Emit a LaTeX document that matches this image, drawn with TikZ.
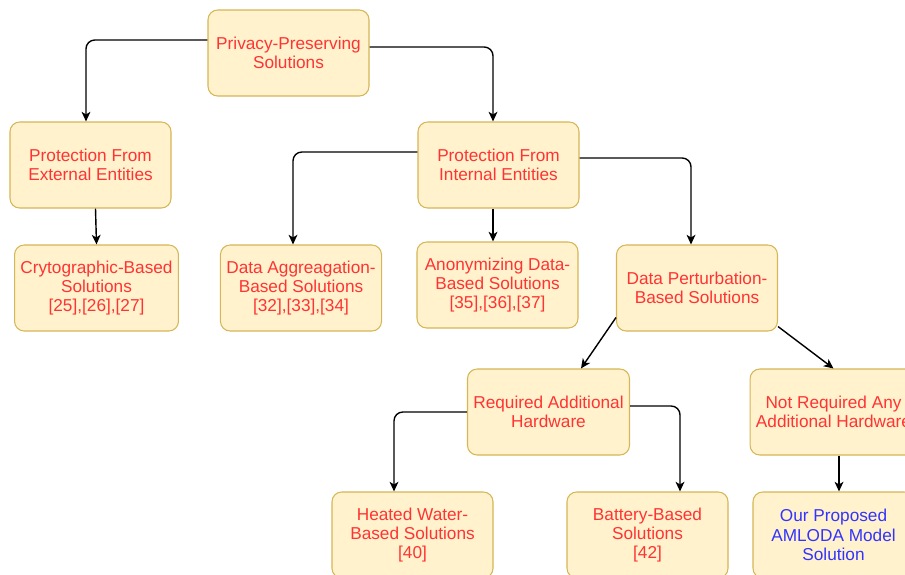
\documentclass[tikz,border=0pt]{standalone}
\usepackage{fontspec}
\setmainfont{Liberation Sans}
\usetikzlibrary{shapes.geometric, arrows.meta}
\definecolor{boxfill}{HTML}{FFF2CC}
\definecolor{boxline}{HTML}{D6B656}
\definecolor{txtred}{HTML}{FF3333}
\definecolor{txtblue}{HTML}{3333FF}
\tikzstyle{solbox} = [rectangle, rounded corners=5.5pt, minimum width=3.22cm, minimum height=1.72cm, text centered, align=center, draw=boxline, line width=0.6pt, fill=boxfill, text=txtred, font=\fontsize{9.8}{11}\selectfont]
\tikzstyle{arrow} = [thick,->,>={Stealth[length=5.5pt,width=5pt,inset=1.5pt]}, rounded corners=5pt]

\begin{document}
\begin{tikzpicture}[node distance=2.46cm] % distancia entre filas
    \useasboundingbox (0,0) rectangle (18.1,-11.48);

    \node (root) [solbox] at (5.77,-1.06) {Privacy-Preserving\\Solutions};
    \node (ext) [solbox, below of=root, xshift=-3.96cm, yshift=0.22cm] {Protection From\\External Entities};
    \node (int) [solbox, below of=root, xshift=4.20cm, yshift=0.22cm] {Protection From\\Internal Entities};

    \node (cry) [solbox, below of=ext, xshift=0.12cm] {Crytographic-Based\\Solutions\\{[25],[26],[27]}};
    \node (agg) [solbox, below of=int, xshift=-3.95cm] {Data Aggreagation-\\Based Solutions\\{[32],[33],[34]}};
    \node (ano) [solbox, below of=int, xshift=-0.02cm, yshift=0.06cm] {Anonymizing Data-\\Based Solutions\\{[35],[36],[37]}};
    \node (per) [solbox, below of=int, xshift=3.97cm] {Data Perturbation-\\Based Solutions};

    \node (req) [solbox, below of=per, xshift=-2.97cm, yshift=-0.02cm] {Required Additional\\Hardware};
    \node (notreq) [solbox, below of=per, xshift=2.73cm, yshift=-0.02cm] {Not Required Any\\Additional Hardware};

    \node (heat) [solbox, below of=req, xshift=-2.72cm] {Heated Water-\\Based Solutions\\{[40]}};
    \node (bat) [solbox, below of=req, xshift=1.98cm] {Battery-Based\\Solutions\\{[42]}};
    \node (our) [solbox, below of=notreq, text=txtblue] {Our Proposed\\AMLODA Model\\Solution};

    % Arrows
    \draw [arrow] ([yshift=0.26cm]root.west) -| ([xshift=-0.09cm]ext.north);
    \draw [arrow] ([yshift=0.12cm]root.east) -| ([xshift=-0.11cm]int.north);
    \draw [arrow] ([xshift=0.1cm]ext.south) -- (cry.north);
    \draw [arrow] ([yshift=0.26cm]int.west) -| ([xshift=-0.16cm]agg.north);
    \draw [arrow] ([xshift=-0.11cm]int.south) -- ([xshift=-0.09cm]ano.north);
    \draw [arrow] ([yshift=0.14cm]int.east) -| ([xshift=-0.12cm]per.north);
    \draw [arrow] ([yshift=0.28cm]per.south west) -- ([xshift=0.65cm]req.north);
    \draw [arrow] ([yshift=0.1cm]per.south east) -- (notreq.north);
    \draw [arrow] (req.west) -| ([xshift=-0.37cm]heat.north);
    \draw [arrow] ([yshift=0.12cm]req.east) -| ([xshift=0.65cm]bat.north);
    \draw [arrow] ([xshift=0.11cm]notreq.south) -- ([xshift=0.11cm]our.north);
\end{tikzpicture}
\end{document}
